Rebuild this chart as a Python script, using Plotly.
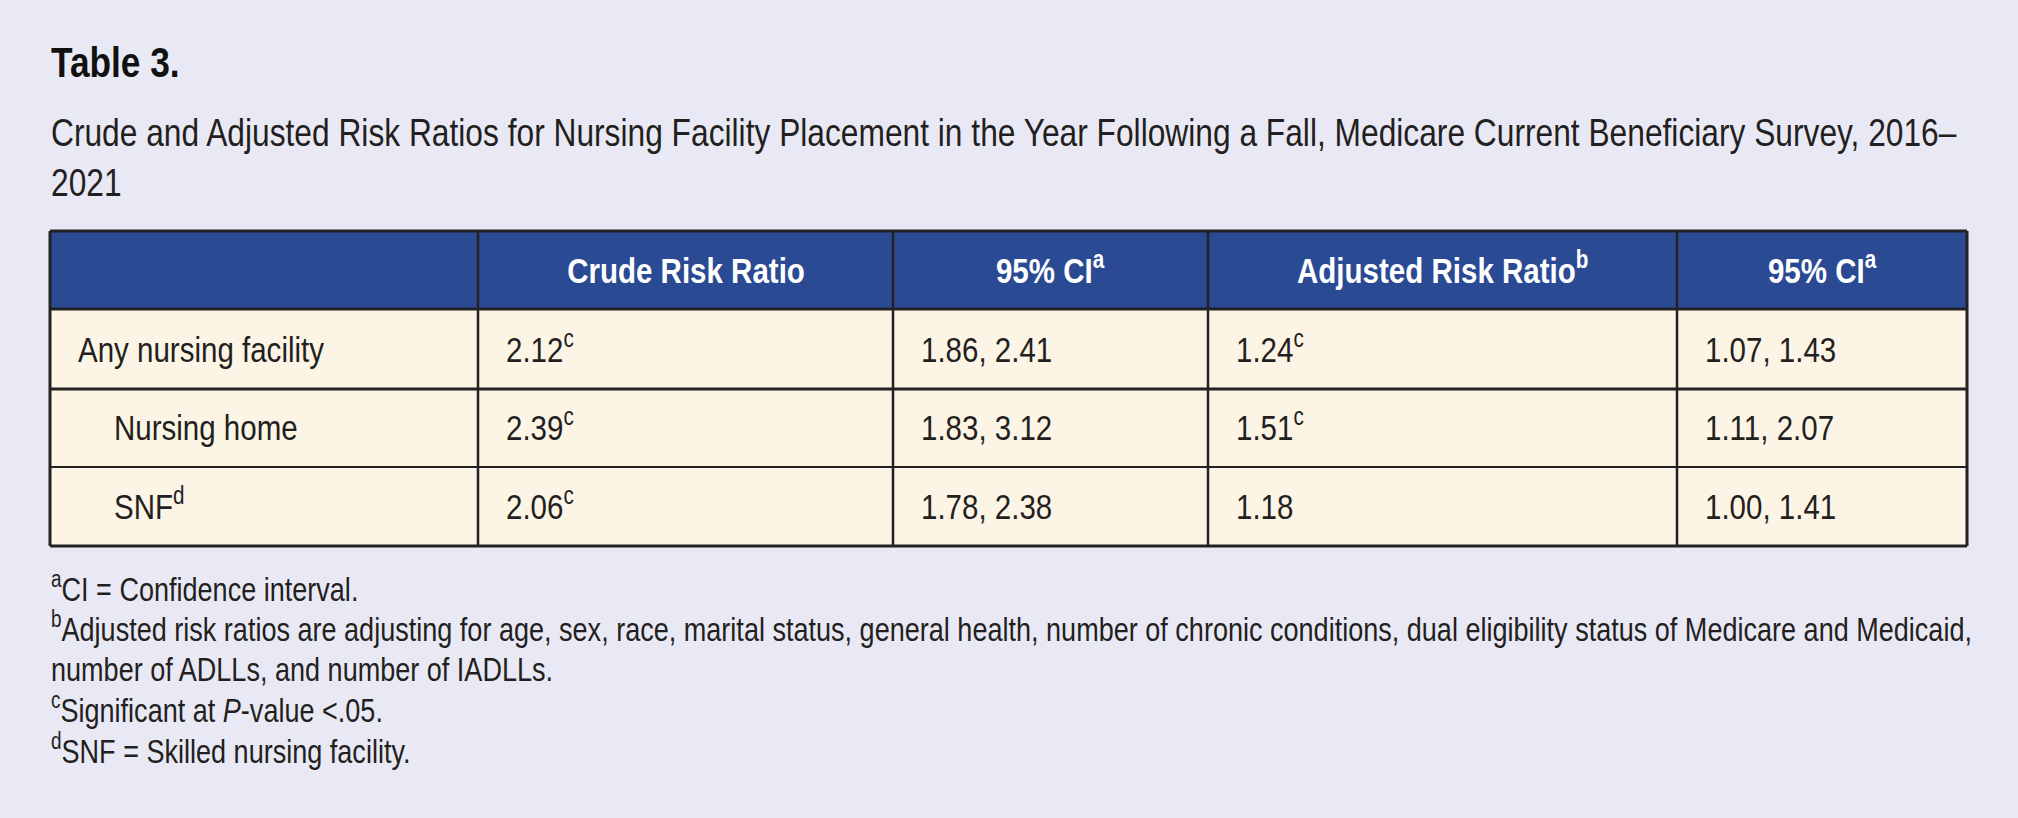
import plotly.graph_objects as go

# ---- table content ----
row_labels = ["Any nursing facility", "Nursing home", "SNF"]
row_label_notes = ["", "", "d"]
row_indent = [0, 1, 1]

crude_rr = [2.12, 2.39, 2.06]
crude_sig = [True, True, True]
crude_ci_low = [1.86, 1.83, 1.78]
crude_ci_high = [2.41, 3.12, 2.38]

adj_rr = [1.24, 1.51, 1.18]
adj_sig = [True, True, False]
adj_ci_low = [1.07, 1.11, 1.00]
adj_ci_high = [1.43, 2.07, 1.41]

headers = ["", "Crude Risk Ratio", "95% CI<sup>a</sup>",
           "Adjusted Risk Ratio<sup>b</sup>", "95% CI<sup>a</sup>"]

title = "Table 3."
subtitle = ["Crude and Adjusted Risk Ratios for Nursing Facility Placement in the Year "
            "Following a Fall, Medicare Current Beneficiary Survey, 2016\u2013",
            "2021"]
footnotes = [
    "<sup>a</sup>CI = Confidence interval.",
    "<sup>b</sup>Adjusted risk ratios are adjusting for age, sex, race, marital status, general health, "
    "number of chronic conditions, dual eligibility status of Medicare and Medicaid,",
    "number of ADLLs, and number of IADLLs.",
    "<sup>c</sup>Significant at <i>P</i>-value &lt;.05.",
    "<sup>d</sup>SNF = Skilled nursing facility.",
]

# ---- layout geometry (pixels) ----
W, H = 2018, 818
col_edges = [50, 478, 893, 1208, 1677, 1967]
row_edges = [231, 309, 389, 467, 546]
pad = 27
indent_px = 36

BG = "#e9e9f5"
HEAD = "#2a4a93"
CREAM = "#fcf4e5"
LINE = "#222222"
FONT = "Liberation Sans, Arial, sans-serif"
DESC = 0.212  # descent fraction, to place text by baseline


def fmt(v, sig):
    s = f"{v:.2f}"
    return s + "<sup>c</sup>" if sig else s


def text_at(x, baseline, txt, size, color="#231f20", anchor="left", bold=False):
    if bold:
        txt = "<b>" + txt + "</b>"
    fig.add_annotation(x=x, y=baseline + DESC * size, xref="x", yref="y",
                       text=txt, showarrow=False, xanchor=anchor, yanchor="bottom",
                       align=anchor, borderpad=0,
                       font=dict(family=FONT, size=size, color=color))


fig = go.Figure()
fig.add_trace(go.Scatter(x=[0, W], y=[0, H], mode="markers",
                         marker=dict(opacity=0), hoverinfo="skip", showlegend=False))

# header + body cells
for c in range(5):
    x0, x1 = col_edges[c], col_edges[c + 1]
    fig.add_shape(type="rect", x0=x0, x1=x1, y0=row_edges[0], y1=row_edges[1],
                  fillcolor=HEAD, line=dict(width=0), layer="below")
    for r in range(3):
        fig.add_shape(type="rect", x0=x0, x1=x1, y0=row_edges[r + 1], y1=row_edges[r + 2],
                      fillcolor=CREAM, line=dict(width=0), layer="below")

# grid lines
for i, ye in enumerate(row_edges):
    w = 3 if i in (0, 1, 2, len(row_edges) - 1) else 2
    fig.add_shape(type="line", x0=col_edges[0], x1=col_edges[-1], y0=ye, y1=ye,
                  line=dict(color=LINE, width=w))
for i, xe in enumerate(col_edges):
    w = 3 if i in (0, len(col_edges) - 1) else 2.5
    fig.add_shape(type="line", x0=xe, x1=xe, y0=row_edges[0], y1=row_edges[-1],
                  line=dict(color=LINE, width=w))

# header text
head_base = 284
for c in range(1, 5):
    cx = (col_edges[c] + col_edges[c + 1]) / 2
    text_at(cx, head_base, headers[c], 36, color="white", anchor="center", bold=True)

# body text
row_base = [363, 441.5, 520]
for r in range(3):
    b = row_base[r]
    lab = row_labels[r] + (f"<sup>{row_label_notes[r]}</sup>" if row_label_notes[r] else "")
    text_at(col_edges[0] + pad + indent_px * row_indent[r], b, lab, 36)
    text_at(col_edges[1] + pad, b, fmt(crude_rr[r], crude_sig[r]), 36)
    text_at(col_edges[2] + pad, b, f"{crude_ci_low[r]:.2f}, {crude_ci_high[r]:.2f}", 36)
    text_at(col_edges[3] + pad, b, fmt(adj_rr[r], adj_sig[r]), 36)
    text_at(col_edges[4] + pad, b, f"{adj_ci_low[r]:.2f}, {adj_ci_high[r]:.2f}", 36)

# title and subtitle
text_at(50, 78, title, 43, color="#111111", bold=True)
text_at(50, 147, subtitle[0], 38.7)
text_at(50, 197, subtitle[1], 38.7)

# footnotes
foot_base = [602, 642, 682, 723, 764]
for t, b in zip(footnotes, foot_base):
    text_at(50, b, t, 33)

fig.update_layout(width=W, height=H, margin=dict(l=0, r=0, t=0, b=0),
                  paper_bgcolor=BG, plot_bgcolor=BG, showlegend=False,
                  xaxis=dict(range=[0, W], visible=False, fixedrange=True),
                  yaxis=dict(range=[H, 0], visible=False, fixedrange=True))

# no narrow font installed: squeeze the text horizontally like a condensed face
squeeze = """
document.body.style.margin = '0';
document.querySelectorAll('text.annotation-text').forEach(function (t) {
    var a = t.getAttribute('text-anchor');
    t.style.transformBox = 'fill-box';
    t.style.transformOrigin = (a === 'middle') ? 'center' : 'left';
    t.style.transform = 'scaleX(0.82)';
});
"""

fig.write_html("out.html", post_script=squeeze, config={"displayModeBar": False})
